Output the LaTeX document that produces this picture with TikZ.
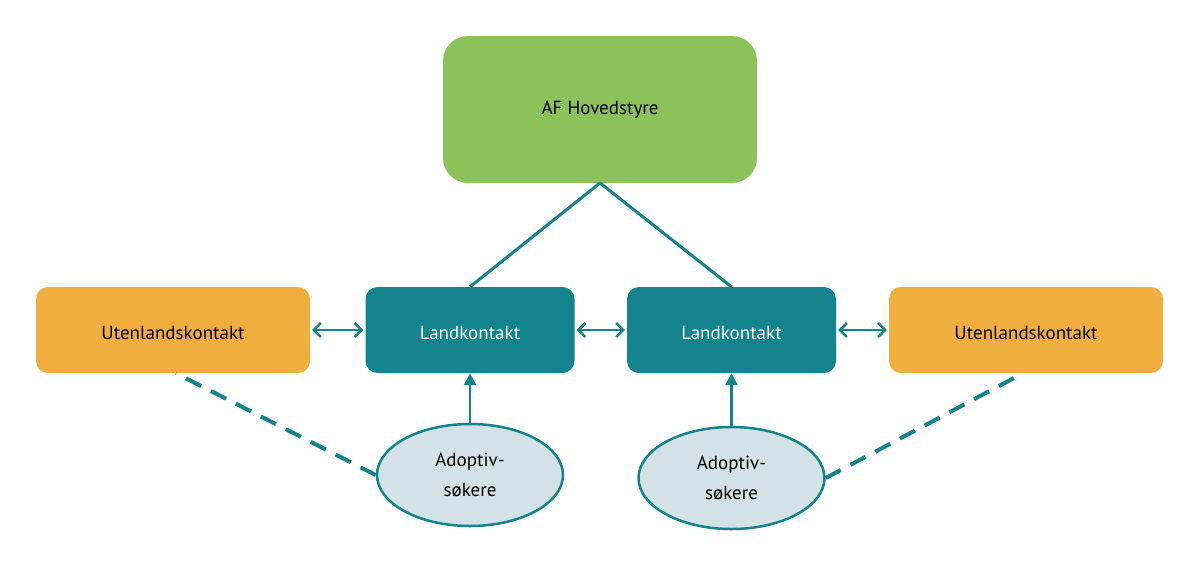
\documentclass[tikz,border=0pt]{standalone}
\usepackage{fontspec}
\setmainfont{PT Sans}
\usetikzlibrary{arrows.meta,shapes.geometric}
\definecolor{teal1}{HTML}{13838E}
\definecolor{green1}{HTML}{8BC25A}
\definecolor{orange1}{HTML}{F0AE3F}
\definecolor{ell}{HTML}{D3E3E5}
\tikzset{
  box/.style={rectangle, rounded corners=12pt, minimum height=86pt, inner sep=0pt, font=\fontsize{19}{22}\selectfont},
  ubox/.style={box, fill=orange1, minimum width=274pt, text=black, text height=18pt, text depth=0pt},
  lbox/.style={box, fill=teal1, minimum width=209pt, text=white, text height=18pt, text depth=0pt},
  topbox/.style={box, fill=green1, minimum width=314pt, minimum height=147pt, rounded corners=25pt},
  ellnode/.style={ellipse, draw=teal1, line width=2.5pt, fill=ell, minimum width=186pt, minimum height=102pt, inner sep=0pt, align=center, font=\fontsize{19}{30}\selectfont},
  conn/.style={draw=teal1, line width=3pt},
  darr/.style={draw=teal1, line width=2.5pt, {Straight Barb[length=7pt,width=14pt]}-{Straight Barb[length=7pt,width=14pt]}},
  uarr/.style={draw=teal1, line width=2.5pt, -{Triangle[length=12pt,width=12pt]}},
  dash1/.style={draw=teal1, line width=4pt, dash pattern=on 17pt off 11pt}
}
\begin{document}
\begin{tikzpicture}[x=1pt,y=-1pt]
\useasboundingbox (0,0) rectangle (1198,568);
\node[topbox] (af) at (600,109.5) {AF Hovedstyre};
\node[ubox] (u1) at (173,330) {Utenlandskontakt};
\node[lbox] (l1) at (470,330) {Landkontakt};
\node[lbox] (l2) at (731.5,330) {Landkontakt};
\node[ubox] (u2) at (1026,330) {Utenlandskontakt};
\node[ellnode] (e1) at (470,475) {Adoptiv-\\søkere};
\node[ellnode] (e2) at (731.5,478) {Adoptiv-\\søkere};
\coordinate (apex) at (600,183);
\draw[conn] (apex) -- (l1.north);
\draw[conn] (apex) -- (l2.north);
\draw[darr] ([xshift=2pt]u1.east) -- ([xshift=-2pt]l1.west);
\draw[darr] ([xshift=2pt]l1.east) -- ([xshift=-2pt]l2.west);
\draw[darr] ([xshift=2pt]l2.east) -- ([xshift=-2pt]u2.west);
\draw[uarr] (e1.north) -- (l1.south);
\draw[uarr] (e2.north) -- (l2.south);
\draw[dash1] (e1.west) -- ([xshift=3pt]u1.south);
\draw[dash1] (e2.east) -- ([xshift=-3pt]u2.south);
\end{tikzpicture}
\end{document}
